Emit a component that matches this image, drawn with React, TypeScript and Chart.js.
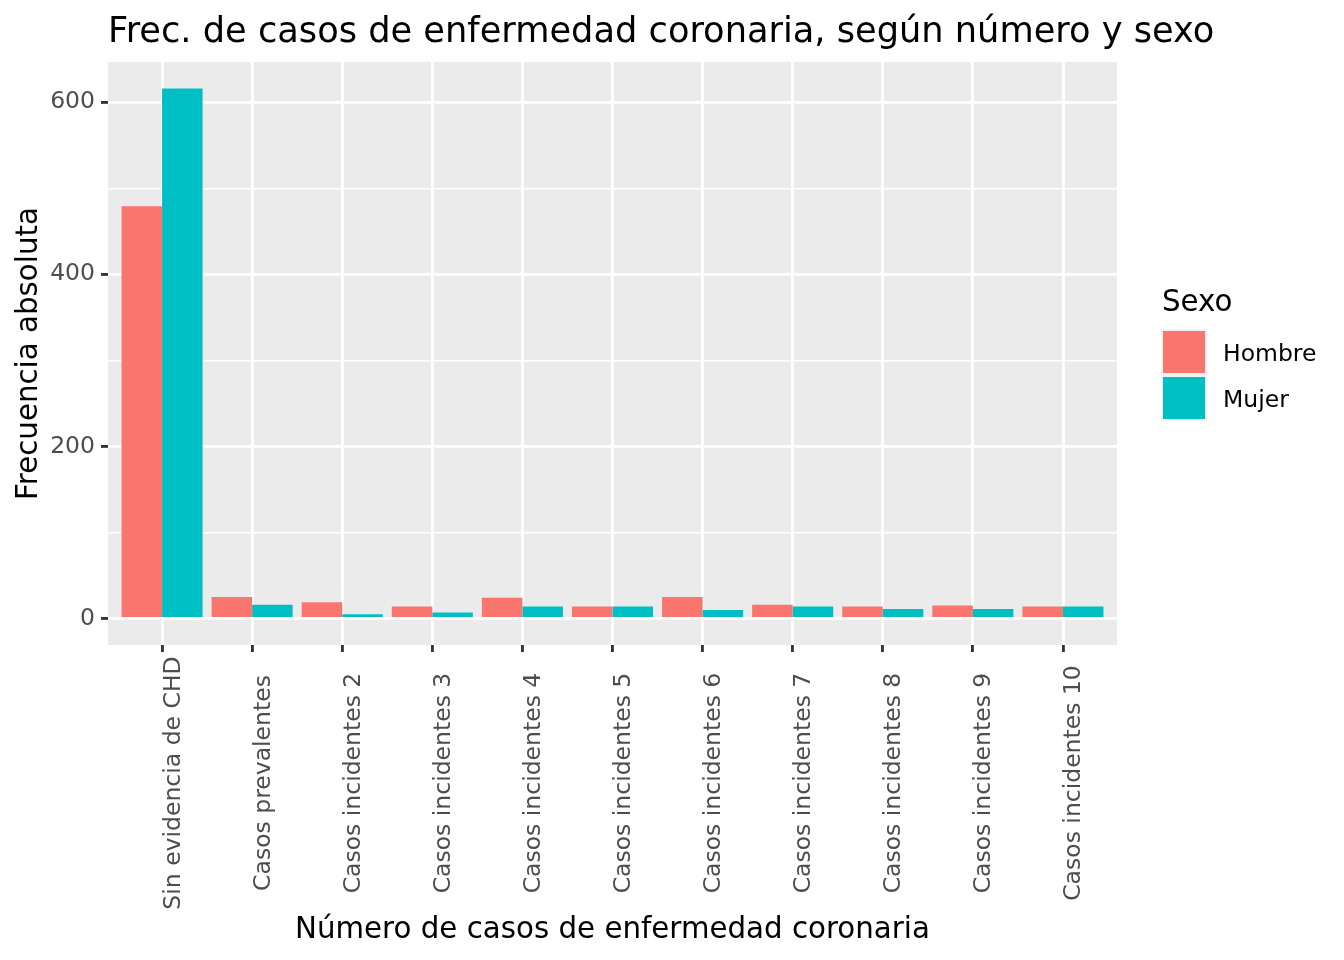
import React, { useEffect, useRef } from "react";
import { Chart, registerables } from "chart.js";

Chart.register(...registerables);

const categories = [
  "Sin evidencia de CHD",
  "Casos prevalentes",
  "Casos incidentes 2",
  "Casos incidentes 3",
  "Casos incidentes 4",
  "Casos incidentes 5",
  "Casos incidentes 6",
  "Casos incidentes 7",
  "Casos incidentes 8",
  "Casos incidentes 9",
  "Casos incidentes 10",
];
const hombre = [479, 25, 19, 14, 24, 14, 25, 16, 14, 15, 14];
const mujer = [616, 16, 5, 7, 14, 14, 10, 14, 11, 11, 14];
const yTicks = [0, 100, 200, 300, 400, 500, 600];
const yLabelTicks = [0, 200, 400, 600];
const seriesNames = ["Hombre", "Mujer"];
const seriesColors = ["#F8766D", "#00BFC4"];

const FONT = "'DejaVu Sans', sans-serif";

const panelPlugin = {
  id: "panelBg",
  beforeDraw(chart: any) {
    const { ctx, chartArea } = chart;
    ctx.save();
    ctx.fillStyle = "#EBEBEB";
    ctx.fillRect(chartArea.left, chartArea.top, chartArea.right - chartArea.left, chartArea.bottom - chartArea.top);
    ctx.restore();
  },
  afterDraw(chart: any) {
    const { ctx } = chart;
    ctx.save();
    // title
    ctx.fillStyle = "#000000";
    ctx.font = `35.2px ${FONT}`;
    ctx.textAlign = "left";
    ctx.textBaseline = "alphabetic";
    ctx.fillText("Frec. de casos de enfermedad coronaria, según número y sexo", 108, 42);
    // x tick labels, rotated and centred (ggplot hjust = 0.5)
    const xScale = chart.scales.x;
    ctx.font = `23.5px ${FONT}`;
    ctx.fillStyle = "#4D4D4D";
    categories.forEach((label, i) => {
      const px = xScale.getPixelForValue(i + 1);
      ctx.save();
      ctx.translate(px + 17.5, 783);
      ctx.rotate(-Math.PI / 2);
      ctx.textAlign = "center";
      ctx.textBaseline = "alphabetic";
      ctx.fillText(label, 0, 0);
      ctx.restore();
    });
    // legend
    ctx.fillStyle = "#000000";
    ctx.textAlign = "left";
    ctx.textBaseline = "alphabetic";
    ctx.font = `29.3px ${FONT}`;
    ctx.fillText("Sexo", 1162, 311);
    const keyX = 1161;
    const keyY0 = 329;
    const keySize = 46;
    seriesNames.forEach((name, i) => {
      const y = keyY0 + i * keySize;
      ctx.fillStyle = "#F2F2F2";
      ctx.fillRect(keyX, y, keySize, keySize);
      ctx.fillStyle = seriesColors[i];
      ctx.fillRect(keyX + 2, y + 2, keySize - 4, keySize - 4);
      ctx.fillStyle = "#000000";
      ctx.font = `23.5px ${FONT}`;
      ctx.textBaseline = "alphabetic";
      ctx.fillText(name, 1223, y + keySize / 2 + 8.5);
    });
    ctx.restore();
  },
};

export default function App() {
  const canvasRef = useRef<HTMLCanvasElement | null>(null);

  useEffect(() => {
    if (!canvasRef.current) return;
    const chart = new Chart(canvasRef.current, {
      type: "bar",
      data: {
        datasets: [
          {
            label: seriesNames[0],
            data: categories.map((_, i) => ({ x: i + 1, y: hombre[i] })),
            backgroundColor: seriesColors[0],
            borderWidth: 0,
            categoryPercentage: 0.9,
            barPercentage: 1,
          },
          {
            label: seriesNames[1],
            data: categories.map((_, i) => ({ x: i + 1, y: mujer[i] })),
            backgroundColor: seriesColors[1],
            borderWidth: 0,
            categoryPercentage: 0.9,
            barPercentage: 1,
          },
        ],
      },
      options: {
        animation: false,
        responsive: true,
        maintainAspectRatio: false,
        layout: { padding: { top: 62, right: 227, left: 0, bottom: 0 } },
        plugins: {
          legend: { display: false },
          title: { display: false },
          tooltip: { enabled: false },
        },
        scales: {
          x: {
            type: "linear",
            min: 0.4,
            max: 11.6,
            offset: false,
            afterBuildTicks: (scale: any) => {
              scale.ticks = categories.map((_, i) => ({ value: i + 1 }));
            },
            afterFit: (scale: any) => {
              scale.height = 315;
            },
            border: { display: false },
            grid: {
              offset: false,
              color: "#FFFFFF",
              lineWidth: 2.84,
              tickColor: "#333333",
              tickWidth: 2.84,
              tickLength: 7,
            },
            ticks: {
              autoSkip: false,
              maxRotation: 0,
              minRotation: 0,
              color: "rgba(0,0,0,0)",
              font: { family: FONT, size: 23.5 },
              callback: () => "",
            },
            title: {
              display: true,
              text: "Número de casos de enfermedad coronaria",
              color: "#000000",
              font: { family: FONT, size: 29.3, lineHeight: 1 },
              padding: { top: 0, bottom: 15 },
            },
          },
          y: {
            type: "linear",
            min: -30.8,
            max: 646.8,
            afterBuildTicks: (scale: any) => {
              scale.ticks = yTicks.map((v) => ({ value: v }));
            },
            afterFit: (scale: any) => {
              scale.width = 108;
            },
            border: { display: false },
            grid: {
              color: "#FFFFFF",
              lineWidth: (ctx: any) => (yLabelTicks.includes(ctx.tick?.value) ? 2.84 : 1.42),
              tickColor: (ctx: any) => (yLabelTicks.includes(ctx.tick?.value) ? "#333333" : "rgba(0,0,0,0)"),
              tickWidth: 2.84,
              tickLength: 7,
            },
            ticks: {
              autoSkip: false,
              padding: 6,
              color: "#4D4D4D",
              font: { family: FONT, size: 23.5 },
              callback: (v: any) => (yLabelTicks.includes(Number(v)) ? String(v) : ""),
            },
            title: {
              display: true,
              text: "Frecuencia absoluta",
              color: "#000000",
              font: { family: FONT, size: 29.3, lineHeight: 1 },
              padding: { top: 15, bottom: 0 },
            },
          },
        },
      },
      plugins: [panelPlugin],
    } as any);
    return () => chart.destroy();
  }, []);

  return (
    <div style={{ position: "absolute", left: 0, top: 0, width: 1344, height: 960, background: "#FFFFFF" }}>
      <canvas ref={canvasRef} />
    </div>
  );
}
